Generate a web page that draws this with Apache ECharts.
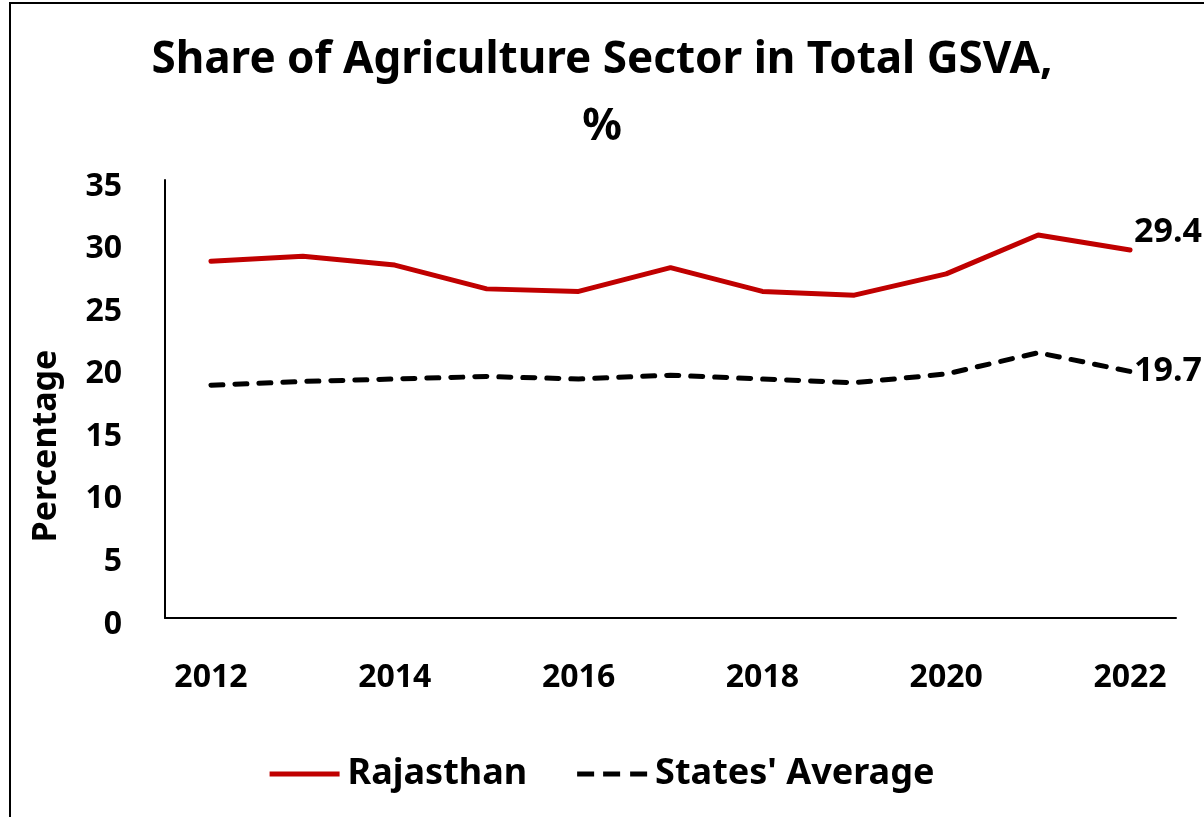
<!DOCTYPE html>
<html>
<head>
<meta charset="utf-8">
<title>Share of Agriculture Sector in Total GSVA</title>
<script src="https://cdn.jsdelivr.net/npm/echarts@6/dist/echarts.min.js"></script>
<style>
  html, body { margin: 0; padding: 0; background: #fff; }
  #chart { width: 1204px; height: 817px; }
</style>
</head>
<body>
<div id="chart"></div>
<script>
const years = ['2012', '2013', '2014', '2015', '2016', '2017', '2018', '2019', '2020', '2021', '2022']
const rajasthan = [28.5, 28.9, 28.2, 26.3, 26.1, 28.0, 26.1, 25.8, 27.5, 30.6, 29.4]
const statesAverage = [18.6, 18.9, 19.1, 19.3, 19.1, 19.4, 19.1, 18.8, 19.5, 21.2, 19.7]

const font = 'Noto Sans'
const chart = echarts.init(document.getElementById('chart'))

// value label at the end of each line
const endLabel = (offset) => ({
  show: true,
  offset: offset,
  distance: 4,
  color: '#000',
  fontFamily: font,
  fontWeight: 'bold',
  fontSize: 34,
  formatter: (params) => {
    return Number(params.value).toFixed(1)
  }
})

chart.setOption({
  animation: false,
  backgroundColor: '#fff',
  graphic: [
    {
      type: 'rect',
      shape: { x: 10, y: 3, width: 1300, height: 900 },
      style: { fill: 'none', stroke: '#000', lineWidth: 2 },
      silent: true
    }
  ],
  title: {
    text: 'Share of Agriculture Sector in Total GSVA,\n%',
    left: 'center',
    top: 22,
    textStyle: {
      fontFamily: font,
      fontWeight: 'bold',
      fontSize: 44,
      lineHeight: 67,
      color: '#000'
    }
  },
  legend: {
    bottom: 20,
    left: 'center',
    itemWidth: 70,
    itemHeight: 5,
    itemGap: 50,
    textStyle: {
      fontFamily: font,
      fontWeight: 'bold',
      fontSize: 36,
      color: '#000',
      padding: [0, 0, 0, 3]
    },
    data: [
      { name: 'Rajasthan', icon: 'path://M0,0H70V5H0Z' },
      { name: "States' Average", icon: 'path://M0,0H17V5H0Z M26,0H43V5H26Z M53,0H70V5H53Z' }
    ]
  },
  grid: {
    left: 165,
    right: 28,
    top: 180,
    bottom: 199,
    containLabel: false
  },
  xAxis: {
    type: 'category',
    data: years,
    boundaryGap: true,
    axisLine: { lineStyle: { color: '#000', width: 2 } },
    axisTick: { show: false },
    axisLabel: {
      interval: 1,
      margin: 44,
      color: '#000',
      fontFamily: font,
      fontWeight: 'bold',
      fontSize: 32
    }
  },
  yAxis: {
    type: 'value',
    min: 0,
    max: 35,
    interval: 5,
    name: 'Percentage',
    nameLocation: 'middle',
    nameGap: 102,
    nameTextStyle: {
      fontFamily: font,
      fontWeight: 'bold',
      fontSize: 34,
      color: '#000',
      padding: [0, 94, 0, 0]
    },
    axisLine: { show: true, lineStyle: { color: '#000', width: 2 } },
    axisTick: { show: false },
    splitLine: { show: false },
    axisLabel: {
      margin: 43,
      formatter: '{v|{value}}',
      rich: {
        v: {
          padding: [13, 0, 0, 0],
          color: '#000',
          fontFamily: font,
          fontWeight: 'bold',
          fontSize: 32
        }
      }
    }
  },
  series: [
    {
      name: 'Rajasthan',
      type: 'line',
      data: rajasthan,
      symbol: 'none',
      lineStyle: { color: '#C00000', width: 5, cap: 'round' },
      itemStyle: { color: '#C00000' },
      endLabel: endLabel([0, -18])
    },
    {
      name: "States' Average",
      type: 'line',
      data: statesAverage,
      symbol: 'none',
      lineStyle: { color: '#000', width: 5, type: [12, 12], cap: 'round' },
      itemStyle: { color: '#000' },
      endLabel: endLabel([0, 0])
    }
  ]
})
</script>
</body>
</html>
